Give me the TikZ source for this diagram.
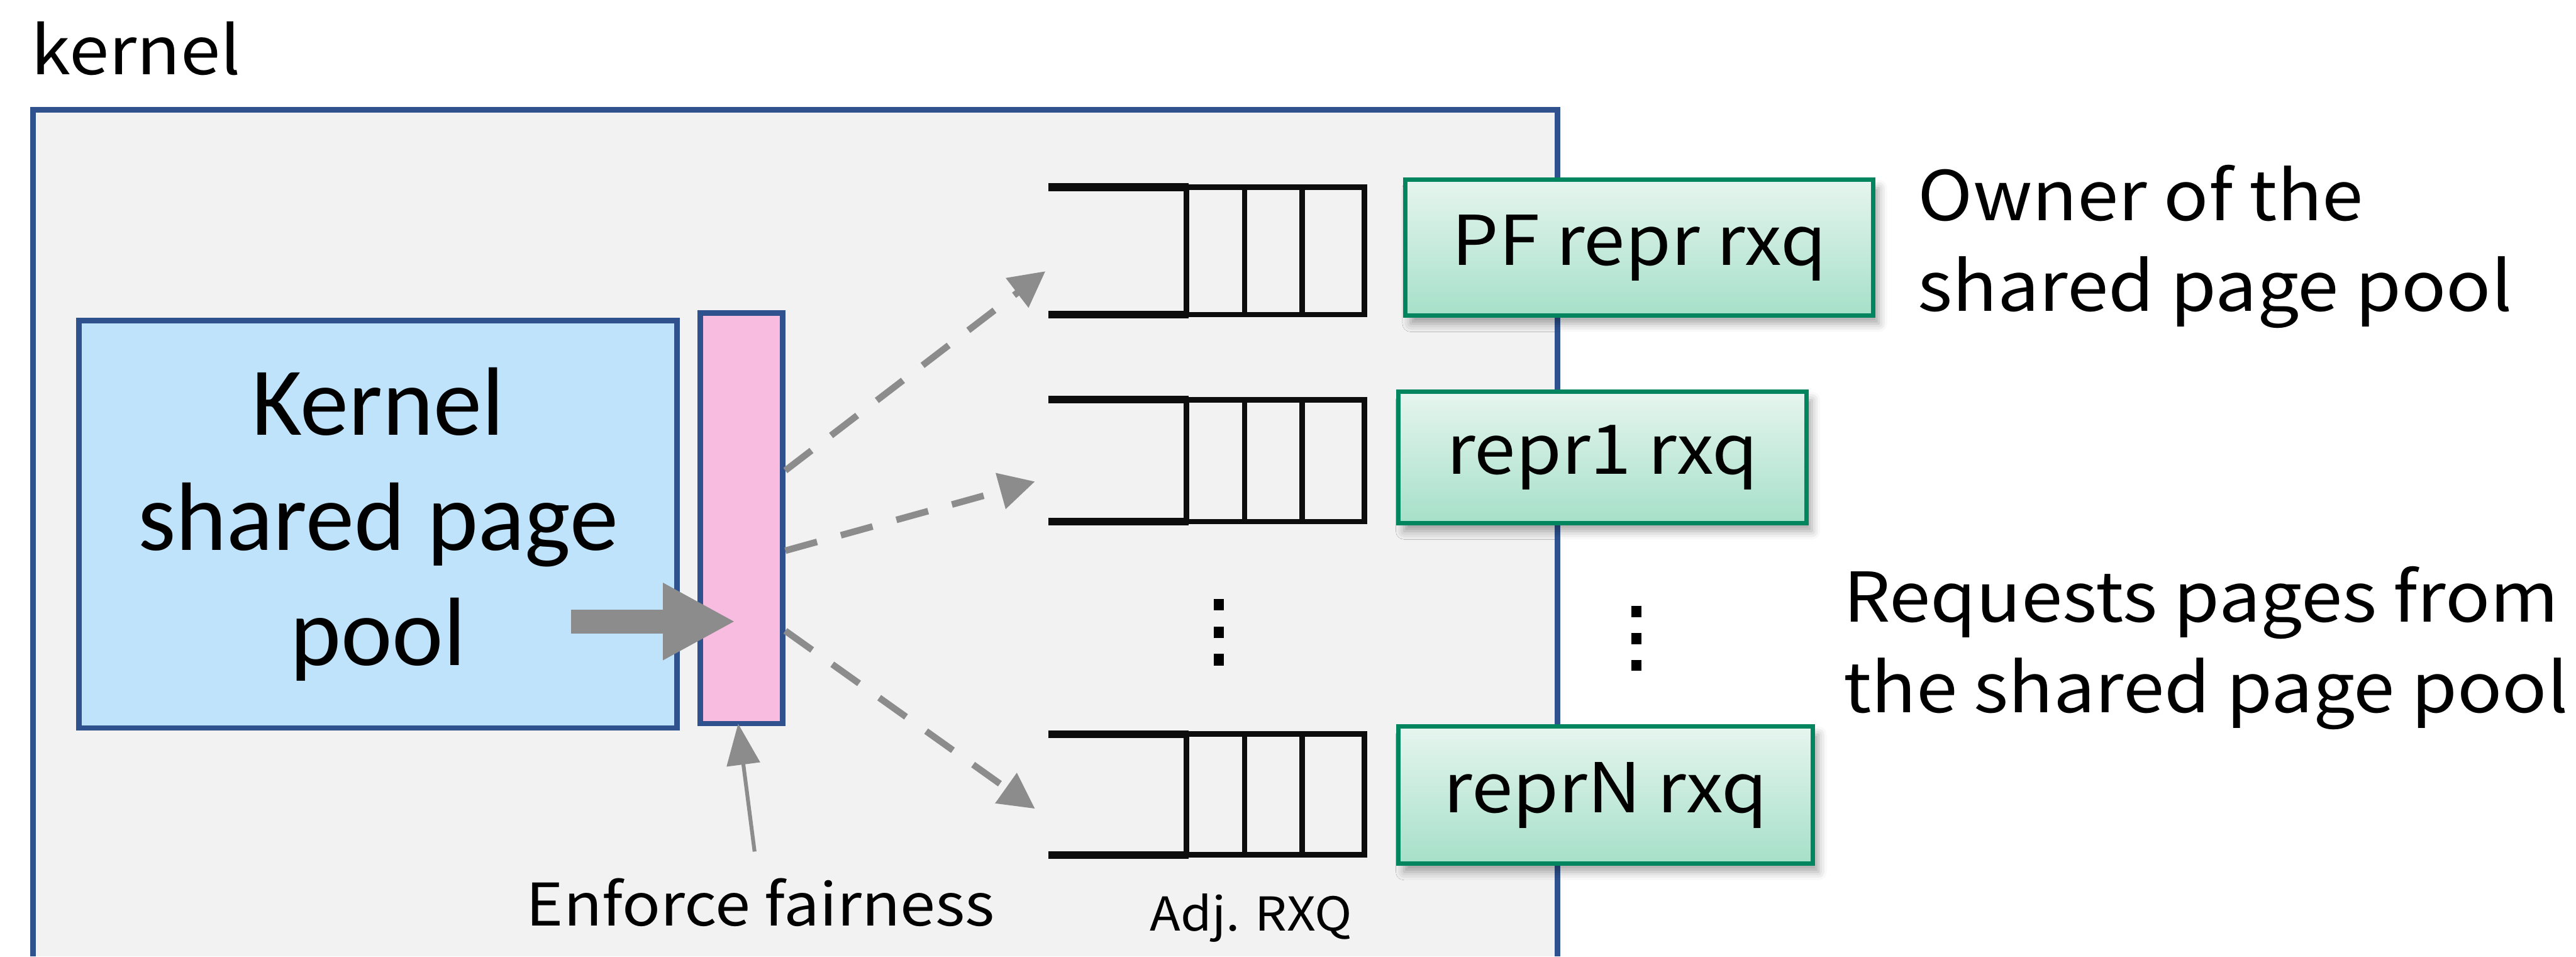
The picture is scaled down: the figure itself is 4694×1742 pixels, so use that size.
\documentclass[tikz,border=0pt]{standalone}
\usepackage{fontspec}
\setmainfont[FakeStretch=1.08]{Noto Sans CJK JP}
\newfontfamily\poolfont{Carlito}
\usetikzlibrary{arrows.meta,shadows.blur}
\definecolor{frameblue}{HTML}{2F528F}
\definecolor{panelgray}{HTML}{F2F2F2}
\definecolor{poolblue}{HTML}{C0E3FC}
\definecolor{barpink}{HTML}{F8BCE0}
\definecolor{arrowgray}{HTML}{8C8C8C}
\definecolor{rxqedge}{HTML}{00855F}
\definecolor{rxqtop}{HTML}{E6F5EF}
\definecolor{rxqbottom}{HTML}{A6E0C9}
\definecolor{qink}{HTML}{0D0D0D}
\begin{document}
\begin{tikzpicture}[x=0.2pt,y=-0.2pt,
  panel/.style={draw=frameblue,line width=2.2pt},
  kpool/.style={draw=frameblue,line width=2pt,fill=poolblue,align=center,inner sep=0pt,
    font=\poolfont\fontsize{35.4}{42}\selectfont},
  fbar/.style={draw=frameblue,line width=2pt,fill=barpink,inner sep=0pt},
  bigarrow/.style={draw=arrowgray,line width=8.8pt,-{Triangle[length=26.4pt,width=26.2pt]}},
  thinarrow/.style={draw=arrowgray,line width=1.4pt,-{Triangle[length=15pt,width=12pt]}},
  dasharrow/.style={draw=arrowgray,line width=2.4pt,dash pattern=on 12pt off 9pt,
    -{Triangle[length=13pt,width=13pt]}},
  qopen/.style={draw=qink,line width=2.8pt},
  qcell/.style={draw=qink,line width=2pt},
  vdots/.style={draw=black,line width=3.6pt},
  rxq/.style={draw=rxqedge,line width=1.6pt,top color=rxqtop,bottom color=rxqbottom,
    blur shadow={shadow xshift=2pt,shadow yshift=-3pt,shadow blur radius=3pt,shadow opacity=35},
    inner sep=0pt,font=\fontsize{25}{30}\selectfont},
  label/.style={inner sep=0pt,align=left,font=\fontsize{25}{33}\selectfont}
]
\useasboundingbox (0,0) rectangle (4694,1742);

% kernel panel, open at the bottom
\fill[panelgray] (60,200) rectangle (2838,1742);
\draw[panel] (60,1742) -- (60,200) -- (2838,200) -- (2838,1742);
\node[inner sep=0pt,anchor=base west,font=\fontsize{24.2}{30}\selectfont] (kernlbl) at (56,136) {kernel};

% shared page pool and fairness stage
\node[kpool,minimum width=218pt,minimum height=148.4pt] (pool) at (689,955) {Kernel\\shared page\\pool};
\node[fbar,minimum width=30pt,minimum height=149.6pt] (bar) at (1351,944) {};
\coordinate (bigtail) at (1040,1132);
\coordinate (bigtip) at (1340,1132);
\draw[bigarrow] (bigtail) -- (bigtip);

\node[inner sep=0pt,anchor=base west,font=\fontsize{21.4}{24}\selectfont] (fair) at (958,1686) {Enforce fairness};
\coordinate (fairtail) at (1375,1551);
\draw[thinarrow] (fairtail) -- ([xshift=-1.2pt,yshift=1pt]bar.south);

% adjacent receive queues
\foreach \n/\t/\b in {q1/341/573,q2/728/950,q3/1337/1557}{
  \draw[qopen] (1910,\t) -- (2166,\t);
  \draw[qopen] (1910,\b) -- (2166,\b);
  \draw[qcell] (2162,\t) rectangle (2486,\b);
  \draw[qcell] (2268,\t) -- (2268,\b);
  \draw[qcell] (2373,\t) -- (2373,\b);
}
\coordinate (t1) at (1905,494);
\coordinate (t2) at (1886,877);
\coordinate (t3) at (1886,1473);
\draw[dasharrow] ([yshift=17.4pt]bar.east) -- (t1);
\draw[dasharrow] ([yshift=-11.8pt]bar.east) -- (t2);
\draw[dasharrow] ([yshift=-41pt]bar.east) -- (t3);

\draw[vdots,dash pattern=on 4.2pt off 5.8pt] (2221,1091) -- (2221,1212);
\node[inner sep=0pt,anchor=base west,font=\fontsize{17}{20}\selectfont] (adj) at (2095,1696) {Adj. RXQ};

% representor receive queues
\node[rxq,minimum width=170.6pt,minimum height=49.4pt] (pf) at (2987,451) {PF repr rxq};
\node[rxq,minimum width=148.6pt,minimum height=47.8pt] (r1) at (2920,833) {repr1 rxq};
\node[rxq,minimum width=151pt,minimum height=50pt] (rn) at (2926,1448) {reprN rxq};
\draw[vdots,dash pattern=on 4pt off 5.8pt] (2982,1104) -- (2982,1222);

% role annotations (anchored on the baseline of the last line)
\node[label,anchor=base west] (owner) at (3494,567) {Owner of the\\shared page pool};
\node[label,anchor=base west] (req) at (3358,1298) {Requests pages from\\the shared page pool};
\end{tikzpicture}
\end{document}
